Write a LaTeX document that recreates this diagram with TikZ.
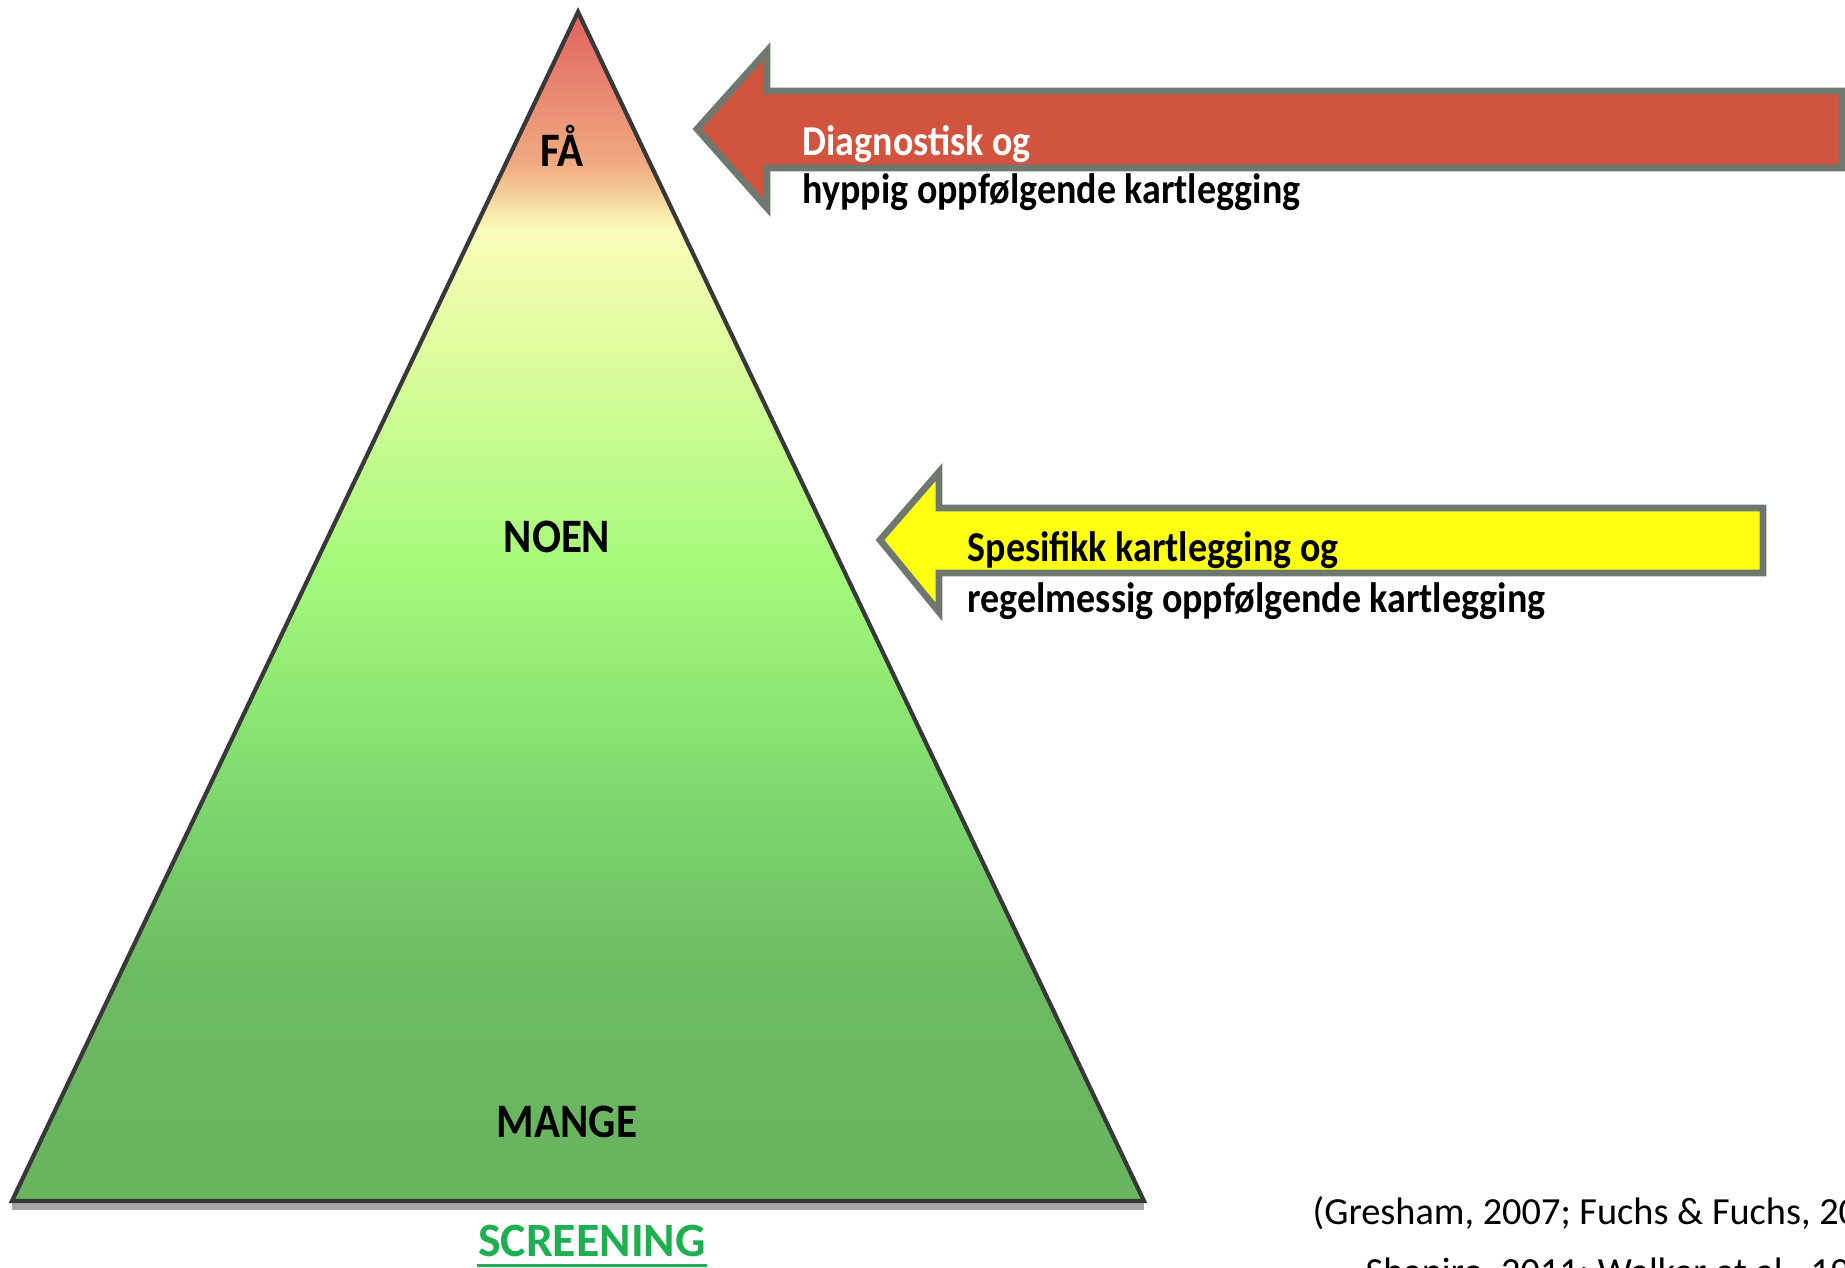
\documentclass[tikz,border=0pt]{standalone}
\usepackage{fontspec}
\setmainfont{Carlito}
\usepackage{graphicx}

\definecolor{pyrRed}{RGB}{224,92,92}
\definecolor{pyrPeach}{RGB}{240,172,130}
\definecolor{pyrCream}{RGB}{250,252,185}
\definecolor{pyrLime}{RGB}{225,252,160}
\definecolor{pyrLight}{RGB}{163,250,122}
\definecolor{pyrMid}{RGB}{125,215,110}
\definecolor{pyrDark}{RGB}{108,186,98}
\definecolor{pyrBase}{RGB}{105,180,95}
\definecolor{arrowRed}{RGB}{209,84,63}
\definecolor{arrowYellow}{RGB}{255,255,20}
\definecolor{arrowRim}{RGB}{110,120,110}
\definecolor{screenGreen}{RGB}{30,175,80}

\newcommand{\tallText}[1]{\scalebox{1}[1.12]{#1}}

\begin{document}
\begin{tikzpicture}[x=0.01cm, y=-0.01cm,
                    LEVEL/.style={inner sep=0, anchor=base, font=\bfseries\fontsize{12.2}{14}\selectfont},
                    ARROWTXT/.style={inner sep=0, anchor=base west, font=\bfseries\fontsize{10.8}{13}\selectfont},
                    CITE/.style={inner sep=0, anchor=base west, font=\fontsize{10.9}{13}\selectfont},
                    BLOCKARROW/.style={draw=arrowRim, line width=1.9pt, line join=miter},
                    PYRAMID/.style={draw=black!78, line width=1.2pt, line join=miter},
                ]
                \useasboundingbox (0,0) rectangle (1845,1268);

                % pyramid
                \coordinate (Apex)   at (578,12);
                \coordinate (Base_L) at (12,1201);
                \coordinate (Base_R) at (1144,1201);
                \draw[black!35, line width=2.2pt] ([yshift=-1.6pt]Base_L) -- ([yshift=-1.6pt]Base_R);
                \begin{scope}
                    \clip (Apex) -- (Base_L) -- (Base_R) -- cycle;
                    \foreach \ya/\ca/\yb/\cb in {0/pyrRed/165/pyrPeach, 165/pyrPeach/228/pyrCream, 228/pyrCream/340/pyrLime,
                                                 340/pyrLime/570/pyrLight, 570/pyrLight/800/pyrMid, 800/pyrMid/980/pyrDark,
                                                 980/pyrDark/1210/pyrBase}
                        \fill[top color=\ca, bottom color=\cb] (0,\ya) rectangle (1200,\yb+2);
                \end{scope}
                \draw[PYRAMID] (Apex) -- (Base_L) -- (Base_R) -- cycle;

                \node[LEVEL] (Few)  at (562,167)  {\tallText{FÅ}};
                \node[LEVEL] (Some) at (557,553)  {\tallText{NOEN}};
                \node[LEVEL] (Many) at (567,1138) {\tallText{MANGE}};

                \node[inner sep=0, anchor=base, text=screenGreen, font=\bfseries\fontsize{13.6}{16}\selectfont]
                    (Screening) at (592,1257) {SCREENING};
                \draw[screenGreen, line width=0.9pt] ([yshift=-2.4pt]Screening.base west) -- ([yshift=-2.4pt]Screening.base east);

                % arrows
                \draw[BLOCKARROW, fill=arrowRed] (697,129) -- (767,51) -- (767,91) -- (1842,91)
                    -- (1842,168) -- (767,168) -- (767,208) -- cycle;
                \draw[BLOCKARROW, fill=arrowYellow] (880,540) -- (939,472) -- (939,508) -- (1763,508)
                    -- (1763,573) -- (939,573) -- (939,612) -- cycle;

                \node[ARROWTXT, text=white] (Red_Top)    at (802,156) {\tallText{Diagnostisk og}};
                \node[ARROWTXT]             (Red_Bottom) at (802,204) {\tallText{hyppig oppfølgende kartlegging}};
                \node[ARROWTXT]             (Yel_Top)    at (967,562) {\tallText{Spesifikk kartlegging og}};
                \node[ARROWTXT]             (Yel_Bottom) at (967,613) {\tallText{regelmessig oppfølgende kartlegging}};

                % source
                \node[CITE] (Cite_A) at (1312,1225) {(Gresham, 2007; Fuchs \& Fuchs, 20};
                \node[CITE] (Cite_B) at (1365,1285) {Shapiro, 2011; Walker et al., 19};
\end{tikzpicture}
\end{document}
